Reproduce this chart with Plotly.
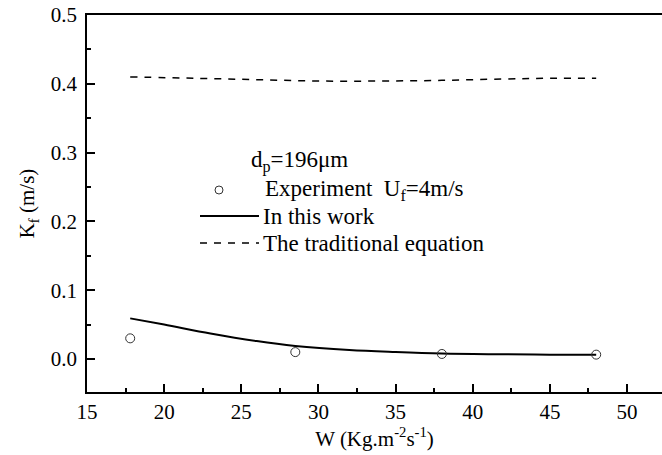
import plotly.graph_objects as go

# Data
exp_w = [17.8, 28.5, 38.0, 48.0]
exp_kf = [0.030, 0.010, 0.0073, 0.0063]

work_w = [17.8, 20, 23, 26, 28.5, 32, 35, 38, 42, 45, 48]
work_kf = [0.059, 0.050, 0.037, 0.026, 0.019, 0.013, 0.010, 0.0078, 0.0068, 0.0063, 0.0060]

trad_w = [17.8, 22, 26, 30, 34, 38, 42, 45, 48]
trad_kf = [0.410, 0.408, 0.406, 0.404, 0.404, 0.405, 0.407, 0.408, 0.408]

x_ticks = [15, 20, 25, 30, 35, 40, 45, 50]
y_ticks = [0.0, 0.1, 0.2, 0.3, 0.4, 0.5]

W, H = 662, 455
L, R, T, B = 87, 0, 15, 63
PW, PH = W - L - R, H - T - B

def px(x):
    return (x - L) / PW

def py(y):
    return (H - B - y) / PH

FONT = "Liberation Serif"
fig = go.Figure()
fig.add_trace(go.Scatter(x=trad_w, y=trad_kf, mode="lines", line=dict(color="black", width=1.5, dash="7px,7px"),
                         line_shape="spline", showlegend=False))
fig.add_trace(go.Scatter(x=work_w, y=work_kf, mode="lines", line=dict(color="black", width=2),
                         line_shape="spline", showlegend=False))
fig.add_trace(go.Scatter(x=exp_w, y=exp_kf, mode="markers",
                         marker=dict(symbol="circle-open", size=9, color="#333", line=dict(width=1)),
                         showlegend=False))

# Legend drawn manually
tf = dict(family=FONT, size=23, color="black")
ann = [
    dict(x=px(249), y=py(161), text="d<sub>p</sub>=196μm"),
    dict(x=px(263), y=py(190), text="Experiment  U<sub>f</sub>=4m/s"),
    dict(x=px(261), y=py(216), text="In this work"),
    dict(x=px(261), y=py(243), text="The traditional equation"),
]
annotations = []
for a in ann:
    annotations.append(dict(xref="paper", yref="paper", xanchor="left", yanchor="middle",
                            showarrow=False, font=tf, **a))
shapes = [
    dict(type="line", xref="paper", yref="paper", x0=px(200), x1=px(259), y0=py(216), y1=py(216),
         line=dict(color="black", width=2)),
    dict(type="line", xref="paper", yref="paper", x0=px(200), x1=px(259), y0=py(243), y1=py(243),
         line=dict(color="black", width=1.5, dash="7px,7px")),
    dict(type="circle", xref="paper", yref="paper", x0=px(215), x1=px(223), y0=py(194), y1=py(186),
         line=dict(color="#333", width=1)),
]

axfont = dict(family=FONT, size=21, color="black")
fig.update_layout(
    width=W, height=H, margin=dict(l=L, r=R, t=T, b=B),
    plot_bgcolor="white", paper_bgcolor="white",
    font=axfont,
    annotations=annotations, shapes=shapes,
    xaxis=dict(range=[15, 15 + PW / 15.43], tickvals=x_ticks, ticks="inside", ticklen=8, tickwidth=1.5,
               tickcolor="black", showline=True, linecolor="black", linewidth=1.5, mirror=True,
               showgrid=False, zeroline=False, tickfont=axfont,
               minor=dict(dtick=2.5, ticks="inside", ticklen=4, tickwidth=1.5, tickcolor="black"),
               title=dict(text="W (Kg.m<sup>-2</sup>s<sup>-1</sup>)", standoff=8, font=axfont)),
    yaxis=dict(range=[-0.048, 0.5], tickvals=y_ticks, tickformat=".1f", ticks="inside", ticklen=8,
               tickwidth=1.5, tickcolor="black", showline=True, linecolor="black", linewidth=1.5,
               showgrid=False, zeroline=False, ticklabelstandoff=4, tickfont=axfont,
               minor=dict(dtick=0.05, ticks="inside", ticklen=4, tickwidth=1.5, tickcolor="black"),
               title=dict(text="K<sub>f</sub> (m/s)", standoff=10, font=axfont)),
)
fig.write_html("out.html")
